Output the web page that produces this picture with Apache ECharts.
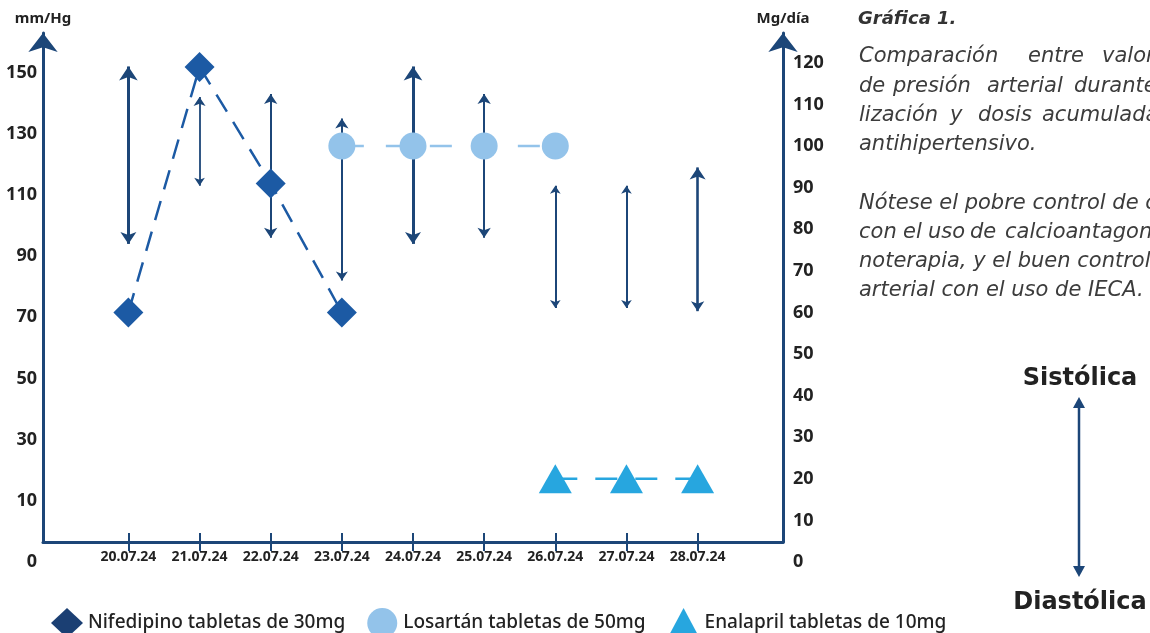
<!DOCTYPE html>
<html><head><meta charset="utf-8">
<script src="https://cdn.jsdelivr.net/npm/echarts@6/dist/echarts.min.js"></script>
<style>html,body{margin:0;padding:0;background:#fff;overflow:hidden}#c{width:1150px;height:633px}</style>
</head><body><div id="c"></div>
<script>
// ---- data ----
const dates = ['20.07.24','21.07.24','22.07.24','23.07.24','24.07.24','25.07.24','26.07.24','27.07.24','28.07.24'];
const systolic  = [152, 142, 143, 135, 152, 143, 113, 113, 119];
const diastolic = [ 94, 113,  96,  82,  94,  96,  73,  73,  72];
const nifedipinoDays = [0, 1, 2, 3];
const nifedipinoDose = [60, 119, 91, 60];
const losartanDays = [3, 4, 5, 6];
const losartanDose = [100, 100, 100, 100];
const enalaprilDays = [6, 7, 8];
const enalaprilDose = [20, 20, 20];
const leftTickValues = [-10, 10, 30, 50, 70, 90, 110, 130, 150];
const leftTickLabels = ['0', '10', '30', '50', '70', '90', '110', '130', '150'];
const rightTickValues = [0, 10, 20, 30, 40, 50, 60, 70, 80, 90, 100, 110, 120];
const seriesNames = ['Nifedipino tabletas de 30mg', 'Losartán tabletas de 50mg', 'Enalapril tabletas de 10mg'];

// ---- styles (kept apart from data) ----
const NAVY = '#1c4678';
const arrowHead = [[14,12],[9,8],[10,10],[10,9],[14,12],[10,10],[8,8],[8,8],[12,10]];
const arrowWidth = [3, 1.8, 2, 2, 3, 2, 2, 2, 2.6];
const FONT = '"Noto Sans", sans-serif';
const PFONT = '"DejaVu Sans", sans-serif';

const chart = echarts.init(document.getElementById('c'));
const dayIdx = dates.map((d, i) => i);

const arrowData = dates.map((d, i) => ({
  coords: [[i, systolic[i]], [i, diastolic[i]]],
  symbolSize: arrowHead[i],
  lineStyle: { width: arrowWidth[i] }
}));

const G0 = { left: 43, right: 367, top: 33, bottom: 91 };
const G1 = { left: 43, right: 367, top: 42, bottom: 71 };
const PSTYLE = 'oblique 21px ' + PFONT;
const PCOL = '#3c3c3c';

function wordsLine(words, y) {
  return words.map(w => ({
    type: 'text',
    style: { text: w[0], x: w[1], y: y, font: PSTYLE, fill: PCOL,
             textVerticalAlign: 'middle', verticalAlign: 'middle' }
  }));
}
function line(text, x, y, font, fill, align) {
  return { type: 'text', style: { text: text, x: x, y: y, font: font, fill: fill,
    textAlign: align || 'left', align: align || 'left', textVerticalAlign: 'middle', verticalAlign: 'middle' } };
}

const graphics = [].concat(
  [line('Gráfica 1.', 858, 19, 'oblique bold 18px ' + PFONT, '#333')],
  wordsLine([['Comparación', 859], ['entre', 1028], ['valores', 1102]], 57),
  wordsLine([['de', 859], ['presión', 893], ['arterial', 987], ['durante', 1074]], 87),
  wordsLine([['lización', 859], ['y', 950], ['dosis', 978], ['acumulada', 1042]], 116),
  [line('antihipertensivo.', 859, 145, PSTYLE, PCOL)],
  [line('Nótese el pobre control de cifras', 859, 204, PSTYLE, PCOL)],
  wordsLine([['con', 859], ['el', 903], ['uso', 928], ['de', 970], ['calcioantagonistas', 1005]], 233),
  [line('noterapia, y el buen control de', 859, 262, PSTYLE, PCOL)],
  [line('arterial con el uso de IECA.', 859, 291, PSTYLE, PCOL)],
  [line('Sistólica', 1080, 379, 'bold 24px ' + PFONT, '#222', 'center')],
  [line('Diastólica', 1080, 603, 'bold 24px ' + PFONT, '#222', 'center')],
  [
    { type: 'line', shape: { x1: 1079, y1: 405, x2: 1079, y2: 569 }, style: { stroke: NAVY, lineWidth: 2.5 } },
    { type: 'polygon', shape: { points: [[1079, 397], [1073, 408], [1085, 408]] }, style: { fill: NAVY } },
    { type: 'polygon', shape: { points: [[1079, 577], [1073, 566], [1085, 566]] }, style: { fill: NAVY } }
  ]
);

chart.setOption({
  animation: false,
  backgroundColor: '#fff',
  textStyle: { fontFamily: FONT },
  grid: [G0, G1],
  xAxis: [
    { gridIndex: 0, type: 'value', min: -1.2, max: 9.2, position: 'bottom',
      axisLine: { show: true, onZero: false, lineStyle: { color: NAVY, width: 3 } },
      axisTick: { show: true, customValues: dayIdx, length: 9, lineStyle: { color: NAVY, width: 2 } },
      axisLabel: { show: true, customValues: dayIdx, formatter: v => dates[v] || '', margin: 8,
                   fontSize: 14, fontWeight: 'bold', color: '#222' },
      splitLine: { show: false } },
    { gridIndex: 1, type: 'value', min: -1.2, max: 9.2, show: false, splitLine: { show: false } },
    { gridIndex: 0, type: 'value', min: -1.2, max: 9.2, position: 'bottom', offset: 0,
      axisLine: { show: false, onZero: false },
      axisTick: { show: true, inside: true, customValues: dayIdx, length: 9, lineStyle: { color: NAVY, width: 2 } },
      axisLabel: { show: false }, splitLine: { show: false } }
  ],
  yAxis: [
    { gridIndex: 0, type: 'value', min: 0, max: 1, position: 'left',
      name: 'mm/Hg', nameLocation: 'end', nameGap: 7,
      nameTextStyle: { fontSize: 15, fontWeight: 'bold', color: '#222', align: 'center' },
      axisLine: { show: true, onZero: false, symbol: ['none', 'arrow'], symbolSize: [22, 19], lineStyle: { color: NAVY, width: 3 } },
      axisTick: { show: false }, axisLabel: { show: false }, splitLine: { show: false } },
    { gridIndex: 0, type: 'value', min: 0, max: 1, position: 'right',
      name: 'Mg/día', nameLocation: 'end', nameGap: 7,
      nameTextStyle: { fontSize: 15, fontWeight: 'bold', color: '#222', align: 'center' },
      axisLine: { show: true, onZero: false, symbol: ['none', 'arrow'], symbolSize: [22, 19], lineStyle: { color: NAVY, width: 3 } },
      axisTick: { show: false }, axisLabel: { show: false }, splitLine: { show: false } },
    { gridIndex: 1, type: 'value', min: -10, max: 160, position: 'left',
      axisLine: { show: false, onZero: false }, axisTick: { show: false }, splitLine: { show: false },
      axisLabel: { customValues: leftTickValues, formatter: v => leftTickLabels[leftTickValues.indexOf(v)] || '',
                   margin: 6, fontSize: 18, fontWeight: 'bold', color: '#222' } },
    { gridIndex: 1, type: 'value', min: 0, max: 125, position: 'right',
      axisLine: { show: false, onZero: false }, axisTick: { show: false }, splitLine: { show: false },
      axisLabel: { customValues: rightTickValues, margin: 10, fontSize: 18, fontWeight: 'bold', color: '#222' } }
  ],
  legend: {
    left: 46, top: 603, itemWidth: 32, itemHeight: 30, itemGap: 22,
    textStyle: { fontSize: 19, fontWeight: 500, color: '#222' },
    data: [
      { name: seriesNames[0], icon: 'diamond', itemStyle: { color: '#1b3f73' } },
      { name: seriesNames[1], icon: 'circle' },
      { name: seriesNames[2], icon: 'triangle' }
    ]
  },
  graphic: graphics,
  series: [
    { type: 'lines', name: 'Presión arterial', coordinateSystem: 'cartesian2d', xAxisIndex: 1, yAxisIndex: 2,
      symbol: ['arrow', 'arrow'], z: 2,
      lineStyle: { color: NAVY, opacity: 1, curveness: 0 },
      data: arrowData },
    { type: 'line', name: seriesNames[0], xAxisIndex: 1, yAxisIndex: 3, z: 3,
      data: nifedipinoDays.map((d, i) => [d, nifedipinoDose[i]]),
      symbol: 'diamond', symbolSize: 30,
      itemStyle: { color: '#1c5aa4' },
      lineStyle: { color: '#1c5aa4', width: 2.5, type: [20, 12] } },
    { type: 'line', name: seriesNames[1], xAxisIndex: 1, yAxisIndex: 3, z: 3,
      data: losartanDays.map((d, i) => [d, losartanDose[i]]),
      symbol: 'circle', symbolSize: 27,
      itemStyle: { color: '#93c3ea' },
      lineStyle: { color: '#93c3ea', width: 2.5, type: [22, 22] } },
    { type: 'line', name: seriesNames[2], xAxisIndex: 1, yAxisIndex: 3, z: 3,
      data: enalaprilDays.map((d, i) => [d, enalaprilDose[i]]),
      symbol: 'triangle', symbolSize: [33, 29],
      itemStyle: { color: '#27a6df' },
      lineStyle: { color: '#27a6df', width: 2.5, type: [22, 18] } }
  ]
});
</script></body></html>
